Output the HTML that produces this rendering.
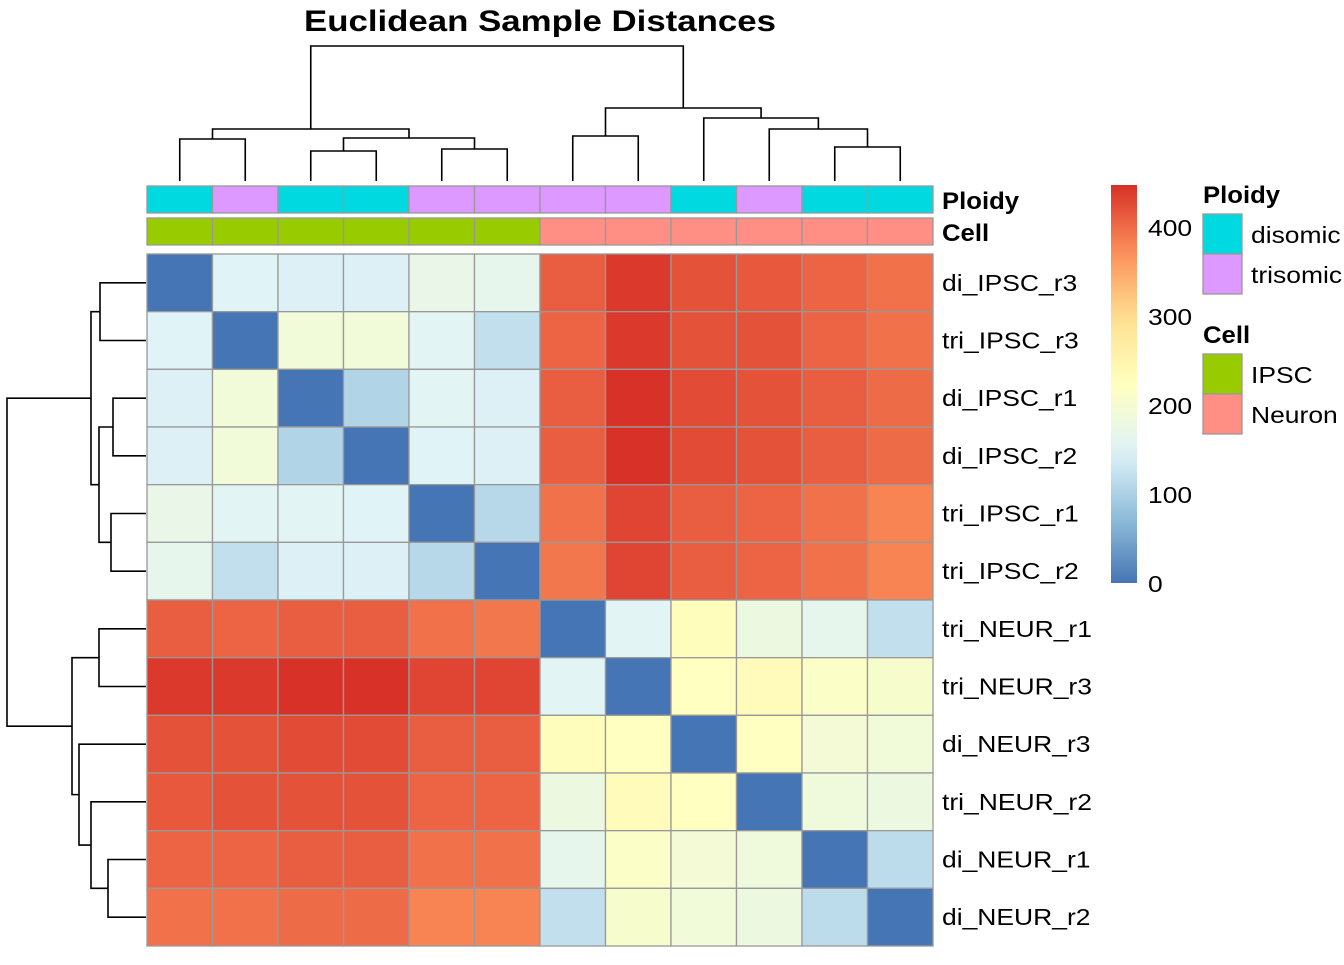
<!DOCTYPE html>
<html><head><meta charset="utf-8"><style>
body{margin:0;background:#fff;}
svg text{font-family:"Liberation Sans",sans-serif;}
</style></head><body>
<svg id="chart" width="1344" height="960" xmlns="http://www.w3.org/2000/svg">
<text x="540" y="31" text-anchor="middle" font-size="30" font-weight="bold" data-sx="1.16">Euclidean Sample Distances</text>
<g id="cells"></g><g id="ann"></g><g id="rdend"></g><g id="cdend"></g><g id="labels"></g><g id="legend"></g>
</svg>
<script>
const samples=["di_IPSC_r3","tri_IPSC_r3","di_IPSC_r1","di_IPSC_r2","tri_IPSC_r1","tri_IPSC_r2","tri_NEUR_r1","tri_NEUR_r3","di_NEUR_r3","tri_NEUR_r2","di_NEUR_r1","di_NEUR_r2"];
const ploidy=["disomic","trisomic","disomic","disomic","trisomic","trisomic","trisomic","trisomic","disomic","trisomic","disomic","disomic"];
const cellType=["IPSC","IPSC","IPSC","IPSC","IPSC","IPSC","Neuron","Neuron","Neuron","Neuron","Neuron","Neuron"];
const dist=[
[0,150,145,145,170,165,410,440,420,415,405,395],
[150,0,190,190,155,120,405,440,420,420,405,395],
[145,190,0,105,155,145,410,445,425,420,410,400],
[145,190,105,0,150,145,410,445,425,420,410,400],
[170,155,155,150,0,110,395,430,410,405,395,380],
[165,120,145,145,110,0,390,430,410,405,395,380],
[410,405,410,410,395,390,0,155,228,180,165,120],
[440,440,445,445,430,430,155,0,222,232,215,205],
[420,420,425,425,410,410,228,222,0,222,195,190],
[415,420,420,420,405,405,180,232,222,0,185,180],
[405,405,410,410,395,395,165,215,195,185,0,115],
[395,395,400,400,380,380,120,205,190,180,115,0]];
const colorTicks=[0,100,200,300,400];
const colMerges=[[-1,-2,42],[-3,-4,30],[-5,-6,32],[2,3,43],[1,4,52],[-7,-8,45],[-11,-12,34],[-10,7,52],[-9,8,63],[6,9,73],[5,10,135]];
const rowMerges=[[-1,-2,46],[-3,-4,33],[-5,-6,35],[2,3,47],[1,4,55],[-7,-8,47],[-11,-12,38],[-10,7,55],[-9,8,67],[6,9,74],[5,10,139]];

const NS="http://www.w3.org/2000/svg";
function mk(t,a,p){const e=document.createElementNS(NS,t);for(const k in a)e.setAttribute(k,a[k]);p.appendChild(e);return e;}
const X0=147,Y0=254,CW=(933-147)/12,CH=(946-254)/12;
const vmax=447;
const pal=["#4575B4","#91BFDB","#E0F3F8","#FFFFBF","#FEE090","#FC8D59","#D73027"];
function col(v){let t=Math.max(0,Math.min(1,v/vmax))*(pal.length-1);let i=Math.min(pal.length-2,Math.floor(t)),f=t-i;
const a=pal[i],b=pal[i+1];const c=[1,3,5].map(k=>Math.round(parseInt(a.substr(k,2),16)*(1-f)+parseInt(b.substr(k,2),16)*f));return `rgb(${c})`;}
const xS=i=>X0+i*CW, yS=i=>Y0+i*CH;
const cells=document.getElementById('cells');
for(let r=0;r<12;r++)for(let c=0;c<12;c++){
 const e=mk('rect',{x:xS(c),y:yS(r),width:CW,height:CH,fill:col(dist[r][c]),stroke:'#999','stroke-width':1.3},cells);
 
 
}
const pc={disomic:"#00D9E0",trisomic:"#DD99FF"},cc={IPSC:"#99CC00",Neuron:"#FF8E85"};
const ann=document.getElementById('ann');
for(let c=0;c<12;c++){
 const a=mk('rect',{x:xS(c),y:186,width:CW,height:27,fill:pc[ploidy[c]],stroke:'#999','stroke-width':1.3},ann);
 
 
 const b=mk('rect',{x:xS(c),y:218,width:CW,height:27,fill:cc[cellType[c]],stroke:'#999','stroke-width':1.3},ann);
 
 
}
const lab=document.getElementById('labels');
let t=mk('text',{x:942,y:209,'font-size':24,'font-weight':'bold','data-sx':1.07},lab);t.textContent="Ploidy";

t=mk('text',{x:942,y:241,'font-size':24,'font-weight':'bold','data-sx':1.07},lab);t.textContent="Cell";

samples.forEach((s,i)=>{const e=mk('text',{x:942,y:yS(i)+CH/2+8,'font-size':23,'data-sx':1.15},lab);e.textContent=s;
 
 });
function dend(merges,g,horiz){
 const pos=[],hgt=[];
 function get(id){if(id<0){const i=-id-1;return [horiz?yS(i)+CH/2:xS(i)+CW/2,0];}return [pos[id-1],hgt[id-1]];}
 merges.forEach((m,k)=>{const [p1,h1]=get(m[0]),[p2,h2]=get(m[1]);const h=m[2];
  pos[k]=(p1+p2)/2;hgt[k]=h;
  let d;
  if(!horiz){const B=181;d=`M${p1},${B-h1}V${B-h}H${p2}V${B-h2}`;}
  else{const B=146;d=`M${B-h1},${p1}H${B-h}V${p2}H${B-h2}`;}
  const e=mk('path',{d:d,fill:'none',stroke:'#000','stroke-width':1.6},g);
  
  
 });
}
dend(colMerges,document.getElementById('cdend'),false);
dend(rowMerges,document.getElementById('rdend'),true);
const lg=document.getElementById('legend');
const cbTop=185,cbBot=583,cbX=1111,cbW=26;
const defs=mk('defs',{},lg);const gr=mk('linearGradient',{id:'cg',x1:0,y1:1,x2:0,y2:0},defs);
for(let i=0;i<=20;i++)mk('stop',{offset:i/20,'stop-color':col(i/20*vmax)},gr);
let cb=mk('rect',{x:cbX,y:cbTop,width:cbW,height:cbBot-cbTop,fill:'url(#cg)'},lg);

const vy=v=>cbBot-(v/vmax)*(cbBot-cbTop);
colorTicks.forEach(v=>{const e=mk('text',{x:1148,y:vy(v)+9,'font-size':23,'data-sx':1.15},lg);e.textContent=v;
 
 });
function legItems(title,ty,items,colors,by){
 const tt=mk('text',{x:1203,y:ty,'font-size':24,'font-weight':'bold','data-sx':1.07},lg);tt.textContent=title;
 
 items.forEach((it,i)=>{const r=mk('rect',{x:1203,y:by+i*40,width:39,height:40,fill:colors[it],stroke:'#999','stroke-width':1.3},lg);
  
  const e=mk('text',{x:1251,y:by+i*40+29,'font-size':23,'data-sx':1.15},lg);e.textContent=it;
  });
}
legItems("Ploidy",203,["disomic","trisomic"],pc,214);
legItems("Cell",343,["IPSC","Neuron"],cc,354);
document.querySelectorAll('text[data-sx]').forEach(e=>{
 const w=e.getComputedTextLength()*parseFloat(e.getAttribute('data-sx'));
 e.setAttribute('textLength',w);e.setAttribute('lengthAdjust','spacingAndGlyphs');
});
</script>
</body></html>
